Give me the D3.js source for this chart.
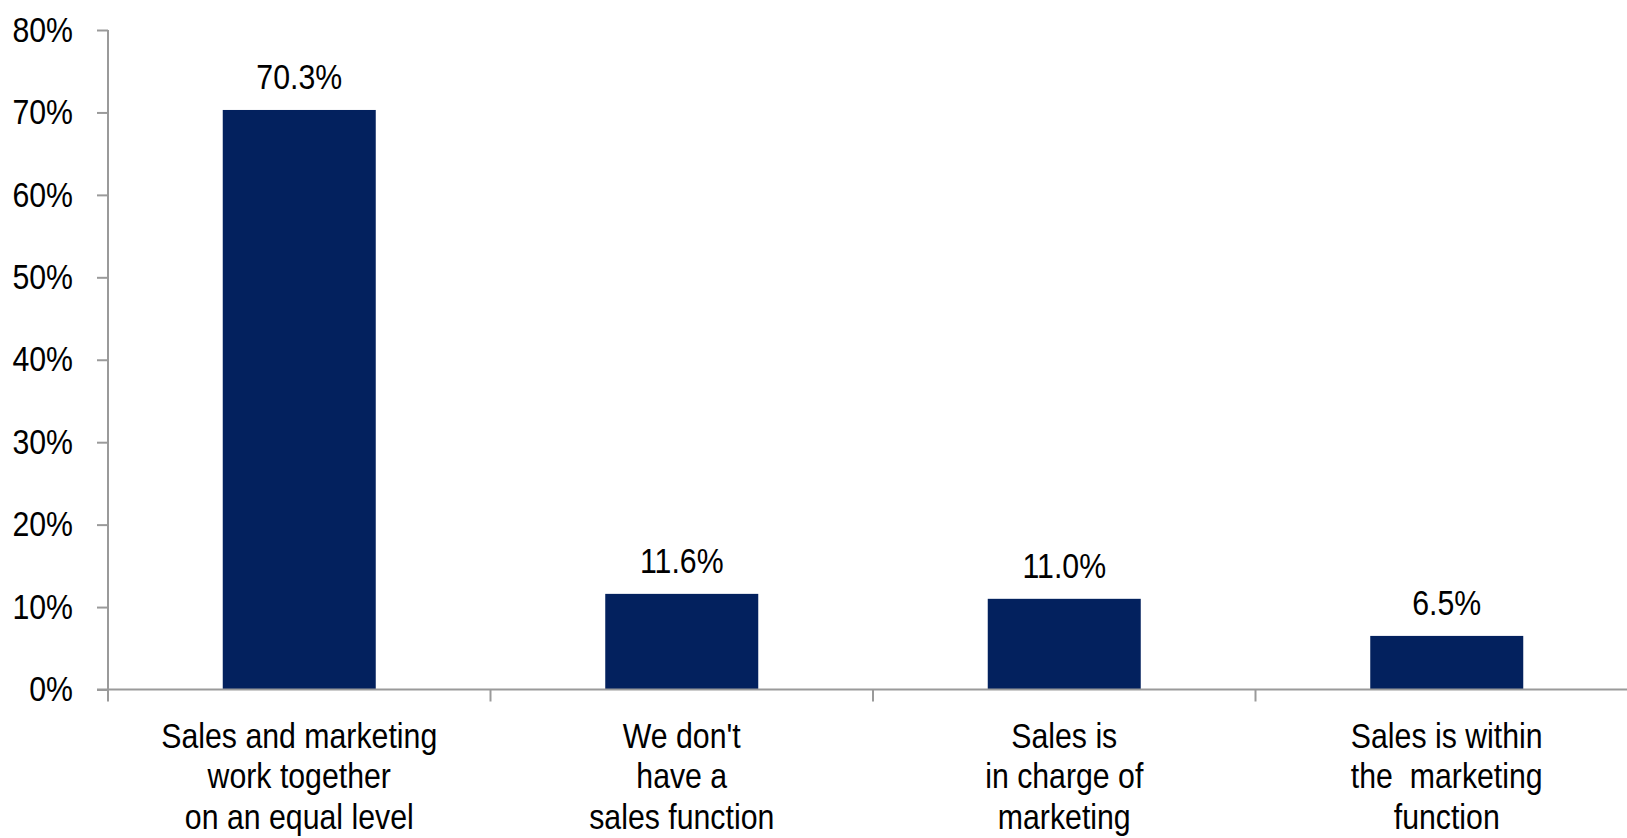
<!DOCTYPE html>
<html>
<head>
<meta charset="utf-8">
<script src="https://cdn.jsdelivr.net/npm/d3@7"></script>
<style>
  html, body { margin: 0; padding: 0; background: #fff; }
  svg { display: block; }
  text { font-family: "Liberation Sans Narrow", "Arial Narrow", "Liberation Sans", Arial, sans-serif; fill: #000; }
</style>
</head>
<body>
<svg id="chart" width="1627" height="838"></svg>
<script>
const categories = [
  ["Sales and marketing", "work together", "on an equal level"],
  ["We don't", "have a", "sales function"],
  ["Sales is", "in charge of", "marketing"],
  ["Sales is within", "the  marketing", "function"]
];
const values = [70.3, 11.6, 11.0, 6.5];
const yTicks = [0, 10, 20, 30, 40, 50, 60, 70, 80];

const W = 1627, H = 838;
const left = 108, yTop = 30, yBottom = 689.5;
const step = 382.5;
const squeeze = 0.865;
const svg = d3.select("#chart");

const x = d3.scaleBand()
  .domain(d3.range(categories.length))
  .range([left, left + step * categories.length])
  .paddingInner(0).paddingOuter(0);

const y = d3.scaleLinear().domain([0, 80]).range([yBottom, yTop]);

const axisColor = "#9a9a9a";
const fontSize = 35;

// Y axis
const yAxis = d3.axisLeft(y)
  .tickValues(yTicks)
  .tickSize(11)
  .tickPadding(24)
  .tickFormat(d => d + "%");
const gy = svg.append("g").attr("transform", `translate(${left},0)`).call(yAxis);
gy.select(".domain").remove();
gy.selectAll(".tick line").attr("stroke", axisColor).attr("stroke-width", 2);
gy.selectAll(".tick text")
  .attr("font-size", fontSize)
  .attr("font-family", null)
  .attr("x", 0)
  .attr("transform", `translate(-35,0) scale(${squeeze},1)`)
  .attr("fill", "#000");
svg.append("line")
  .attr("x1", left).attr("x2", left)
  .attr("y1", y(80)).attr("y2", yBottom + 12)
  .attr("stroke", axisColor).attr("stroke-width", 2);

// Bars
const barW = x.bandwidth() * 0.4;
svg.append("g").selectAll("rect")
  .data(values)
  .join("rect")
  .attr("x", (d, i) => x(i) + (x.bandwidth() - barW) / 2)
  .attr("y", d => y(d))
  .attr("width", barW)
  .attr("height", d => y(0) - y(d))
  .attr("fill", "#03215E");

// X axis line
svg.append("line")
  .attr("x1", left - 11).attr("x2", W)
  .attr("y1", yBottom).attr("y2", yBottom)
  .attr("stroke", axisColor).attr("stroke-width", 2);

// X ticks at band boundaries
svg.append("g").selectAll("line")
  .data(d3.range(1, categories.length + 1))
  .join("line")
  .attr("x1", i => x(0) + i * x.step())
  .attr("x2", i => x(0) + i * x.step())
  .attr("y1", yBottom).attr("y2", yBottom + 12)
  .attr("stroke", axisColor).attr("stroke-width", 2);

// Value labels
svg.append("g").selectAll("text")
  .data(values)
  .join("text")
  .attr("transform", (d, i) => `translate(${x(i) + x.bandwidth() / 2},${y(d) - 21}) scale(${squeeze},1)`)
  .attr("text-anchor", "middle")
  .attr("font-size", fontSize)
  .text(d => d3.format(".1f")(d) + "%");

// Category labels
const cat = svg.append("g").selectAll("text")
  .data(categories)
  .join("text")
  .attr("transform", (d, i) => `translate(${x(i) + x.bandwidth() / 2},0) scale(${squeeze},1)`)
  .attr("text-anchor", "middle")
  .attr("font-size", fontSize)
  .style("white-space", "pre")
  .attr("xml:space", "preserve");
cat.each(function(lines, i) {
  const t = d3.select(this);
  lines.forEach((ln, j) => {
    t.append("tspan")
      .attr("x", 0)
      .attr("y", 748 + j * 40.5)
      .text(ln);
  });
});
</script>
</body>
</html>
